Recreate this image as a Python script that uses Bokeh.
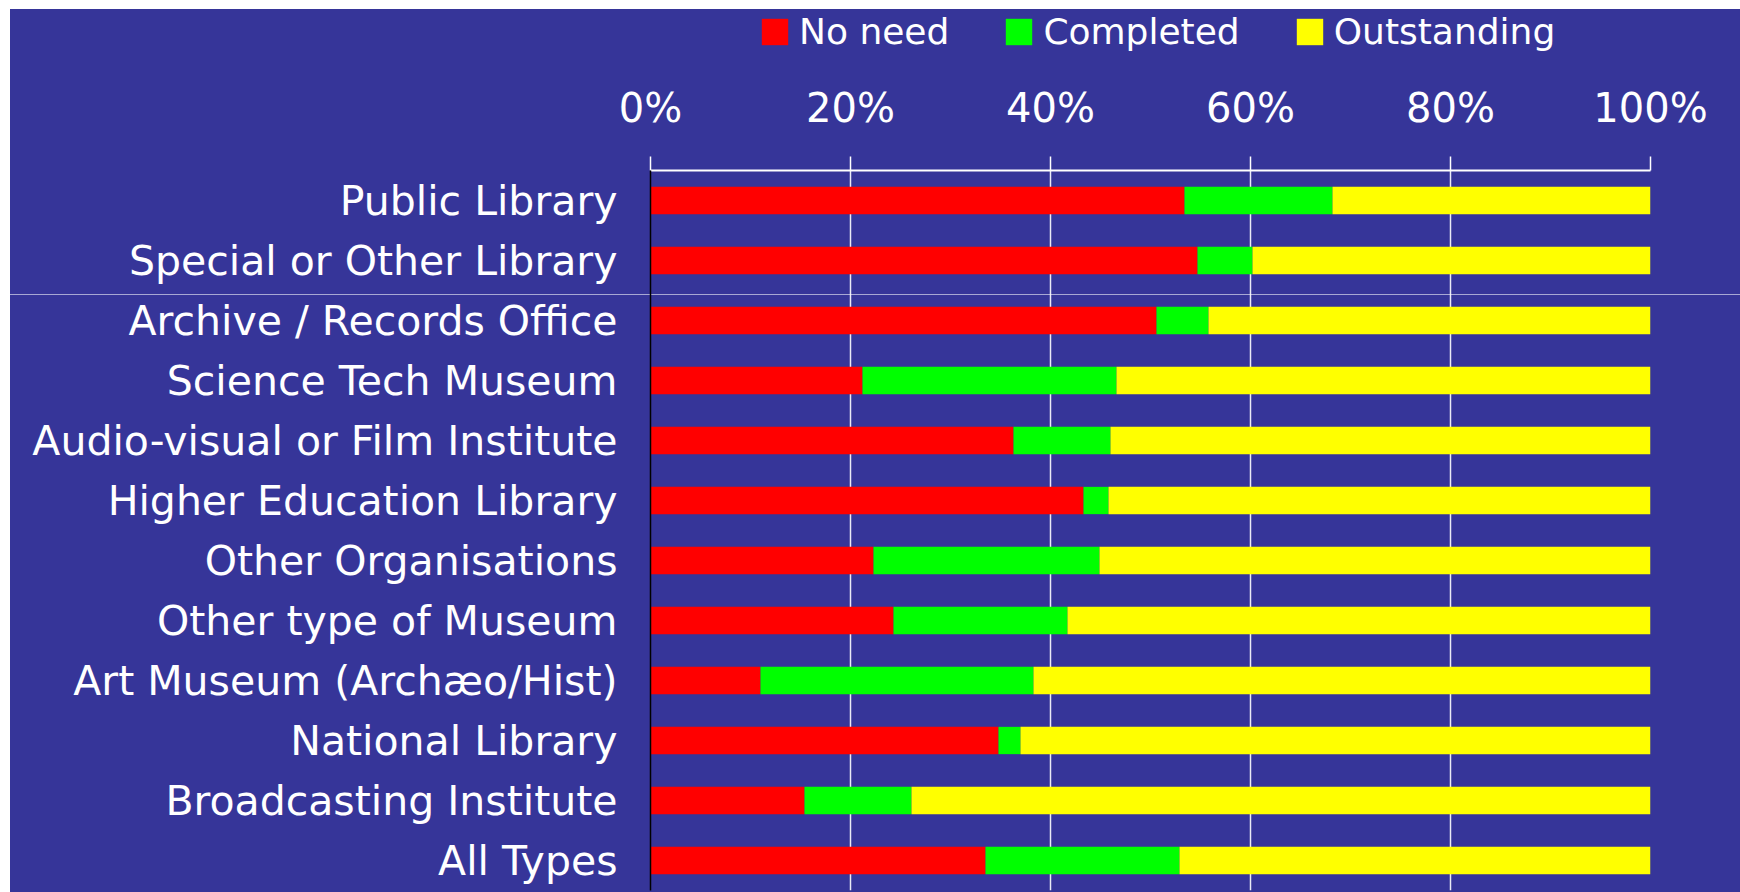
from bokeh.plotting import figure
from bokeh.layouts import column
from bokeh.models import (Range1d, FactorRange, FixedTicker, Legend, LegendItem,
                          ColumnDataSource)
from bokeh.embed import file_html
from bokeh.resources import INLINE

categories = [
    "Public Library",
    "Special or Other Library",
    "Archive / Records Office",
    "Science Tech Museum",
    "Audio-visual or Film Institute",
    "Higher Education Library",
    "Other Organisations",
    "Other type of Museum",
    "Art Museum (Archæo/Hist)",
    "National Library",
    "Broadcasting Institute",
    "All Types",
]
no_need = [53.4, 54.7, 50.6, 21.2, 36.3, 43.3, 22.3, 24.3, 11.0, 34.8, 15.4, 33.5]
completed = [14.8, 5.5, 5.2, 25.4, 9.7, 2.5, 22.6, 17.4, 27.3, 2.2, 10.7, 19.4]
outstanding = [round(100 - a - b, 1) for a, b in zip(no_need, completed)]

series_names = ["No need", "Completed", "Outstanding"]
series_colors = ["#ff0000", "#00ff00", "#ffff00"]
stack_fields = ["no_need", "completed", "outstanding"]
tick_values = [0, 20, 40, 60, 80, 100]
tick_labels = ["0%", "20%", "40%", "60%", "80%", "100%"]

BG = "#363599"
SEP = "#a8a8d4"
FONT = "DejaVu Sans"

source = ColumnDataSource(dict(cat=categories, no_need=no_need,
                               completed=completed, outstanding=outstanding))

TOP_H = 60

# ---------------- main chart ----------------
p = figure(width=1730, height=883 - TOP_H, output_backend="svg", toolbar_location=None,
           x_range=Range1d(0, 100), y_range=FactorRange(factors=categories[::-1], range_padding=0),
           x_axis_location="above",
           min_border_left=640, min_border_right=90, min_border_top=161 - TOP_H, min_border_bottom=2,
           background_fill_color=None, border_fill_color=None, outline_line_color=None)

# background with the thin separator line running across the whole chart
sep_y = 285 - TOP_H
p.styles = {
    "background-color": BG,
    "background-image": f"linear-gradient(to bottom, {BG} {sep_y}px, {SEP} {sep_y}px, {SEP} {sep_y + 1}px, {BG} {sep_y + 1}px)",
}

renderers = p.hbar_stack(stack_fields, y="cat", height=0.455,
                         color=series_colors, line_color=None, source=source)

xa = p.xaxis[0]
xa.ticker = FixedTicker(ticks=tick_values)
xa.major_label_overrides = {v: l for v, l in zip(tick_values, tick_labels)}
xa.axis_line_color = "white"
xa.axis_line_width = 2
xa.major_tick_line_color = "white"
xa.major_tick_line_width = 1.5
xa.major_tick_in = 0
xa.major_tick_out = 14
xa.minor_tick_line_color = None
xa.major_label_text_color = "white"
xa.major_label_text_font = FONT
xa.major_label_text_font_size = "40px"
xa.major_label_standoff = 26

ya = p.yaxis[0]
ya.axis_line_color = "black"
ya.axis_line_width = 1.5
ya.major_tick_line_color = None
ya.minor_tick_line_color = None
ya.major_tick_in = 0
ya.major_tick_out = 0
ya.major_label_text_color = "white"
ya.major_label_text_font = FONT
ya.major_label_text_font_size = "41px"
ya.major_label_standoff = 33

p.xgrid.grid_line_color = "white"
p.xgrid.grid_line_alpha = 0.9
p.xgrid.grid_line_width = 1.5
p.ygrid.grid_line_color = None

# ---------------- legend strip ----------------
lf = figure(width=1730, height=TOP_H, output_backend="svg", toolbar_location=None,
            x_range=Range1d(0, 100), y_range=FactorRange(factors=categories),
            min_border_left=640, min_border_right=90, min_border_top=0, min_border_bottom=0,
            background_fill_color=None, border_fill_color=None, outline_line_color=None)
lf.styles = {"background-color": BG}
lf.axis.visible = False
lf.grid.visible = False
# same stacked series with zero bar height: only their legend swatches show
leg_renderers = lf.hbar_stack(stack_fields, y="cat", height=0,
                              color=series_colors, line_color=None, source=source)

legend = Legend(items=[LegendItem(label=n, renderers=[r]) for n, r in zip(series_names, leg_renderers)],
                orientation="horizontal", location=(108, 17),
                glyph_width=33, glyph_height=33, label_standoff=8, spacing=53,
                padding=0, margin=0,
                label_text_color="white", label_text_font=FONT, label_text_font_size="36px",
                background_fill_alpha=0, border_line_color=None)
lf.add_layout(legend, "center")

layout = column(lf, p, spacing=0, margin=(9, 0, 0, 10))

open("out.html", "w").write(file_html(layout, INLINE))
